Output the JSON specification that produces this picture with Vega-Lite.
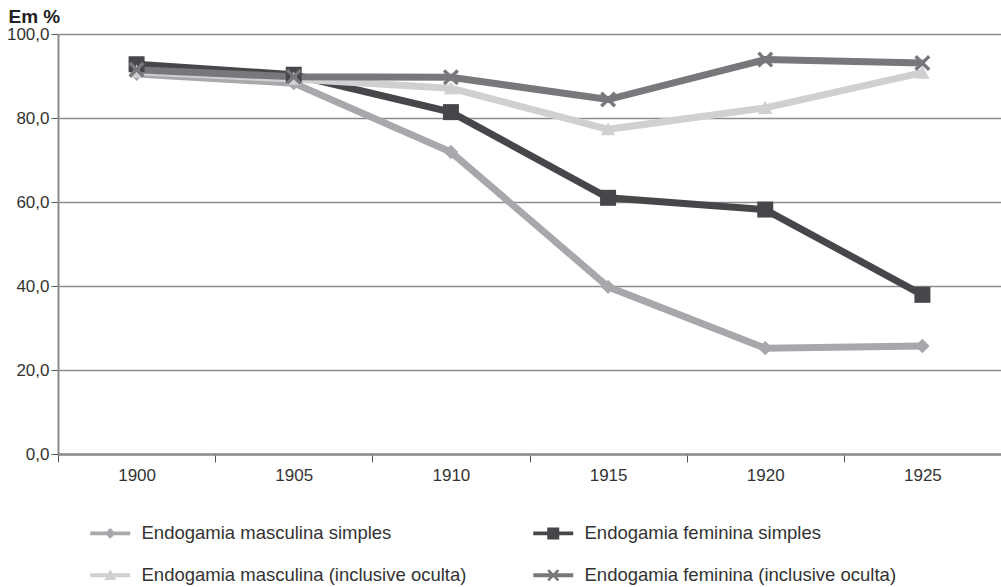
{
  "$schema": "https://vega.github.io/schema/vega-lite/v6.json",
  "width": 943,
  "height": 420,
  "autosize": {"type": "none"},
  "padding": {"left": 58, "top": 34, "right": 0, "bottom": 133},
  "background": "white",
  "config": {
    "font": "Liberation Sans",
    "view": {"stroke": null},
    "axis": {"labelFont": "Liberation Sans", "labelFontSize": 17, "labelColor": "#333333", "titleFont": "Liberation Sans"}
  },
  "data": {
    "values": [
      {"ano": "1900", "serie": "Endogamia masculina simples", "valor": 90.5},
      {"ano": "1905", "serie": "Endogamia masculina simples", "valor": 88.3},
      {"ano": "1910", "serie": "Endogamia masculina simples", "valor": 71.9},
      {"ano": "1915", "serie": "Endogamia masculina simples", "valor": 39.8},
      {"ano": "1920", "serie": "Endogamia masculina simples", "valor": 25.2},
      {"ano": "1925", "serie": "Endogamia masculina simples", "valor": 25.7},
      {"ano": "1900", "serie": "Endogamia feminina simples", "valor": 92.8},
      {"ano": "1905", "serie": "Endogamia feminina simples", "valor": 90.3},
      {"ano": "1910", "serie": "Endogamia feminina simples", "valor": 81.4},
      {"ano": "1915", "serie": "Endogamia feminina simples", "valor": 61.0},
      {"ano": "1920", "serie": "Endogamia feminina simples", "valor": 58.2},
      {"ano": "1925", "serie": "Endogamia feminina simples", "valor": 37.9},
      {"ano": "1900", "serie": "Endogamia masculina (inclusive oculta)", "valor": 91.0},
      {"ano": "1905", "serie": "Endogamia masculina (inclusive oculta)", "valor": 89.3},
      {"ano": "1910", "serie": "Endogamia masculina (inclusive oculta)", "valor": 87.1},
      {"ano": "1915", "serie": "Endogamia masculina (inclusive oculta)", "valor": 77.3},
      {"ano": "1920", "serie": "Endogamia masculina (inclusive oculta)", "valor": 82.4},
      {"ano": "1925", "serie": "Endogamia masculina (inclusive oculta)", "valor": 90.8},
      {"ano": "1900", "serie": "Endogamia feminina (inclusive oculta)", "valor": 91.5},
      {"ano": "1905", "serie": "Endogamia feminina (inclusive oculta)", "valor": 89.8},
      {"ano": "1910", "serie": "Endogamia feminina (inclusive oculta)", "valor": 89.7},
      {"ano": "1915", "serie": "Endogamia feminina (inclusive oculta)", "valor": 84.4},
      {"ano": "1920", "serie": "Endogamia feminina (inclusive oculta)", "valor": 93.9},
      {"ano": "1925", "serie": "Endogamia feminina (inclusive oculta)", "valor": 93.1}
    ]
  },
  "encoding": {
    "x": {
      "field": "ano",
      "type": "ordinal",
      "bandPosition": 0.5,
      "scale": {"type": "band", "paddingInner": 0, "paddingOuter": 0},
      "axis": {
        "title": null,
        "labelAngle": 0,
        "tickBand": "extent",
        "domainColor": "#8c8c8c",
        "domainWidth": 2.5,
        "tickColor": "#555555",
        "tickWidth": 1,
        "tickSize": 8,
        "labelPadding": 5,
        "grid": false
      }
    },
    "y": {
      "field": "valor",
      "type": "quantitative",
      "scale": {"domain": [0, 100], "nice": false},
      "axis": {
        "title": "Em %",
        "titleAngle": 0,
        "titleAlign": "left",
        "titleBaseline": "alphabetic",
        "titleX": -50,
        "titleY": -12,
        "titleFontSize": 19,
        "titleFontWeight": "bold",
        "titleColor": "#222222",
        "values": [0, 20, 40, 60, 80, 100],
        "labelExpr": "replace(format(datum.value, '.1f'), '.', ',')",
        "labelPadding": 2,
        "tickSize": 7,
        "tickColor": "#555555",
        "domainColor": "#8c8c8c",
        "domainWidth": 2,
        "grid": true,
        "gridColor": "#8c8c8c",
        "gridWidth": 1.5
      }
    },
    "color": {
      "field": "serie",
      "type": "nominal",
      "scale": {
        "domain": ["Endogamia masculina simples", "Endogamia feminina simples", "Endogamia masculina (inclusive oculta)", "Endogamia feminina (inclusive oculta)"],
        "range": ["#a7a8ab", "#46474a", "#cfd0d2", "#77787b"]
      },
      "legend": {
        "title": null,
        "orient": "none",
        "direction": "horizontal",
        "legendX": 43,
        "legendY": 490,
        "columns": 2,
        "padding": 0,
        "columnPadding": 66,
        "rowPadding": 23,
        "labelFont": "Liberation Sans",
        "labelFontSize": 18.5,
        "labelColor": "#333333",
        "labelLimit": 500,
        "labelOffset": 22,
        "symbolSize": 144,
        "symbolStrokeWidth": 0,
        "symbolOpacity": 1,
        "encode": {
          "symbols": {
            "update": {
              "shape": {"signal": "datum.value === 'Endogamia masculina simples' ? 'M-3.33,-0.33H3.33V0.33H-3.33Z M0,-0.9L0.9,0L0,0.9L-0.9,0Z' : datum.value === 'Endogamia feminina simples' ? 'M-3.33,-0.33H3.33V0.33H-3.33Z M-1,-1H1V1H-1Z' : datum.value === 'Endogamia masculina (inclusive oculta)' ? 'M-3.33,-0.33H3.33V0.33H-3.33Z M0,-1L1,0.8H-1Z' : 'M-3.33,-0.33H3.33V0.33H-3.33Z M-1,-0.7L-0.7,-1L0,-0.3L0.7,-1L1,-0.7L0.3,0L1,0.7L0.7,1L0,0.3L-0.7,1L-1,0.7L-0.3,0Z'"},
              "fill": {"scale": "color", "field": "value"},
              "fillOpacity": {"value": 1},
              "strokeWidth": {"value": 0}
            }
          }
        }
      }
    }
  },
  "layer": [
    {
      "mark": {"type": "line", "strokeWidth": 7, "strokeJoin": "miter"}
    },
    {
      "transform": [{"filter": "datum.serie === 'Endogamia masculina simples'"}],
      "mark": {"type": "point", "filled": true, "opacity": 1, "size": 256, "shape": "M0,-0.9L0.9,0L0,0.9L-0.9,0Z"}
    },
    {
      "transform": [{"filter": "datum.serie === 'Endogamia feminina simples'"}],
      "mark": {"type": "point", "filled": true, "opacity": 1, "size": 256, "shape": "M-1,-1H1V1H-1Z"}
    },
    {
      "transform": [{"filter": "datum.serie === 'Endogamia masculina (inclusive oculta)'"}],
      "mark": {"type": "point", "filled": true, "opacity": 1, "size": 256, "shape": "M0,-0.9L0.9,0.75H-0.9Z"}
    },
    {
      "transform": [{"filter": "datum.serie === 'Endogamia feminina (inclusive oculta)'"}],
      "mark": {"type": "point", "filled": true, "opacity": 1, "size": 256, "shape": "M-1,-0.7L-0.7,-1L0,-0.3L0.7,-1L1,-0.7L0.3,0L1,0.7L0.7,1L0,0.3L-0.7,1L-1,0.7L-0.3,0Z"}
    }
  ]
}
